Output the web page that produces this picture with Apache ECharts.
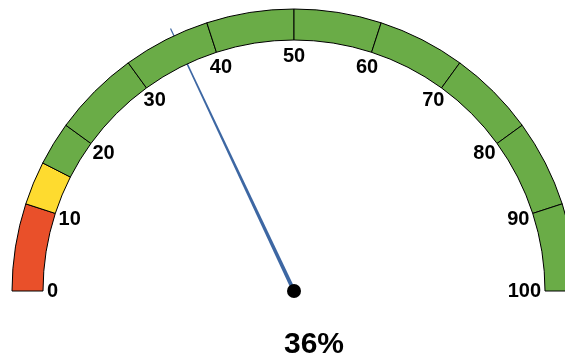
<!DOCTYPE html>
<html>
<head>
<meta charset="utf-8">
<script src="https://cdn.jsdelivr.net/npm/echarts@6/dist/echarts.min.js"></script>
<style>html,body{margin:0;padding:0;background:#fff}#c{width:565px;height:358px}</style>
</head>
<body>
<div id="c"></div>
<script>
// Band segments (value spans along the 0-100 scale) and their colours
const segmentSpans = [10, 5, 5, 10, 10, 10, 10, 10, 10, 10, 10];
const segmentColors = ['#E9502A', '#FEDB2F', '#6AAC47', '#6AAC47', '#6AAC47', '#6AAC47', '#6AAC47', '#6AAC47', '#6AAC47', '#6AAC47', '#6AAC47'];
const scaleMin = 0;
const scaleMax = 100;
const scaleSplits = 10;
const tickLabels = [0, 10, 20, 30, 40, 50, 60, 70, 80, 90, 100];
const gaugeValue = [36];

const cx = 294, cy = 291;
const total = segmentSpans.reduce((a, b) => a + b, 0);

const pieData = segmentSpans.map((v, i) => ({
  value: v,
  itemStyle: { color: segmentColors[i], borderColor: '#000', borderWidth: 1 }
}));
pieData.push({ value: total, itemStyle: { color: 'rgba(0,0,0,0)', borderWidth: 0 } });

// per-label padding [top, right, bottom, left] to nudge label placement
const labelPads = [
  [0, 0, 0, 9], [16, 0, 0, 8], [26, 0, 0, 5.5], [7, 0, 0, 0], [10, 0, 0, 12], [11, 0, 0, 0],
  [10, 12, 0, 0], [7, 0, 0, 0], [26, 5.5, 0, 0], [16, 8, 0, 0], [0, 9, 0, 0]
];
const labelFont = { color: '#000', fontSize: 20, fontWeight: 'bold', fontFamily: 'Liberation Sans, Arial, sans-serif' };
const rich = {};
tickLabels.forEach((t, i) => {
  rich['s' + t] = Object.assign({ padding: labelPads[i] }, labelFont);
});

const chart = echarts.init(document.getElementById('c'), null, { renderer: 'canvas' });
chart.setOption({
  animation: false,
  series: [
    {
      type: 'pie',
      center: [cx, cy],
      radius: [251, 282],
      startAngle: 180,
      clockwise: true,
      silent: true,
      label: { show: false },
      labelLine: { show: false },
      emphasis: { disabled: true },
      data: pieData
    },
    {
      type: 'gauge',
      center: [cx, cy],
      radius: 256,
      startAngle: 180,
      endAngle: 0,
      min: scaleMin,
      max: scaleMax,
      splitNumber: scaleSplits,
      axisLine: { show: false, lineStyle: { width: 0 } },
      splitLine: { show: false, length: 0, distance: 0 },
      axisTick: { show: false },
      axisLabel: Object.assign({
        distance: 0,
        formatter: function (v) { const r = Math.round(v); return '{s' + r + '|' + r + '}'; },
        rich: rich
      }, labelFont),
      pointer: {
        icon: 'path://M0.35,0 L0.65,0 L1,1 L0,1 Z',
        length: 290,
        width: 4,
        offsetCenter: [0, 0],
        itemStyle: { color: '#3D67A3' }
      },
      anchor: {
        show: true,
        showAbove: true,
        size: 14,
        itemStyle: { color: '#000' }
      },
      title: { show: false },
      detail: {
        formatter: '{value}%',
        offsetCenter: [20, 54],
        color: '#000',
        fontSize: 30,
        fontWeight: 'bold',
        fontFamily: 'Liberation Sans, Arial, sans-serif'
      },
      data: [{ value: gaugeValue[0] }]
    }
  ]
});
</script>
</body>
</html>
